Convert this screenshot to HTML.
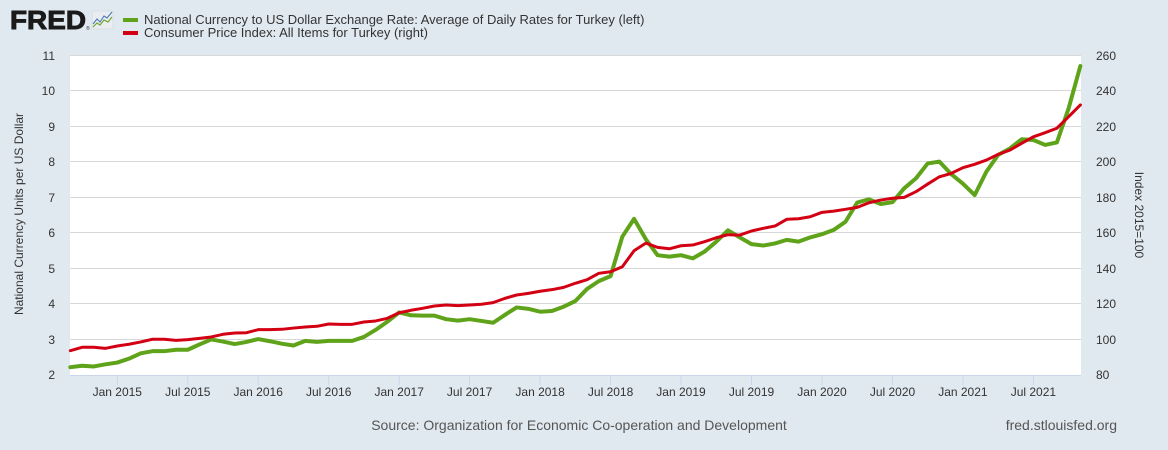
<!DOCTYPE html>
<html>
<head>
<meta charset="utf-8">
<style>
  html, body { margin:0; padding:0; background:#e1e9f0; }
  body { width:1168px; height:450px; overflow:hidden; }
  svg { display:block; font-family:"Liberation Sans", Arial, sans-serif; }
</style>
</head>
<body>
<svg width="1168" height="450" viewBox="0 0 1168 450" xmlns="http://www.w3.org/2000/svg">
  <rect x="0" y="0" width="1168" height="450" fill="#e1e9f0"/>

  <!-- FRED logo -->
  <text x="10" y="29" font-size="26" font-weight="bold" fill="#1a1a1a" stroke="#1a1a1a" stroke-width="0.9" textLength="76" lengthAdjust="spacingAndGlyphs">FRED</text>
  <text x="86" y="30" font-size="5" fill="#333">®</text>
  <rect x="92" y="11" width="21" height="18" fill="#e9edf1" stroke="#cfd6dd" stroke-width="0.6"/>
  <polyline points="93,24 97,19 100,22 104,16 107,18 112,12" fill="none" stroke="#4f79b8" stroke-width="1.1"/>
  <polyline points="93,27 97,23 100,25 104,20 108,22 112,17" fill="none" stroke="#6aa622" stroke-width="1.1"/>

  <!-- Legend -->
  <rect x="123" y="18" width="15" height="4" fill="#5fa31a"/>
  <rect x="123" y="31" width="15" height="4" fill="#d30013"/>
  <text x="144" y="24" font-size="13" fill="#333">National Currency to US Dollar Exchange Rate: Average of Daily Rates for Turkey (left)</text>
  <text x="144" y="37" font-size="13" fill="#333">Consumer Price Index: All Items for Turkey (right)</text>

  <!-- Plot area -->
  <rect x="70" y="55" width="1011" height="320" fill="#ffffff"/>

  <!-- Gridlines -->
  <g stroke="#d8d8d8" stroke-width="1">
    <line x1="70" x2="1081" y1="55.5" y2="55.5"/>
    <line x1="70" x2="1081" y1="90.5" y2="90.5"/>
    <line x1="70" x2="1081" y1="126.5" y2="126.5"/>
    <line x1="70" x2="1081" y1="161.5" y2="161.5"/>
    <line x1="70" x2="1081" y1="197.5" y2="197.5"/>
    <line x1="70" x2="1081" y1="232.5" y2="232.5"/>
    <line x1="70" x2="1081" y1="268.5" y2="268.5"/>
    <line x1="70" x2="1081" y1="303.5" y2="303.5"/>
    <line x1="70" x2="1081" y1="339.5" y2="339.5"/>
  </g>
  <!-- X axis line and ticks -->
  <line x1="70" x2="1081" y1="375.5" y2="375.5" stroke="#ccd6eb" stroke-width="1"/>
  <g stroke="#ccd6eb" stroke-width="1">
    <line x1="117.3" x2="117.3" y1="375" y2="385"/>
    <line x1="187.8" x2="187.8" y1="375" y2="385"/>
    <line x1="258.2" x2="258.2" y1="375" y2="385"/>
    <line x1="328.7" x2="328.7" y1="375" y2="385"/>
    <line x1="399.2" x2="399.2" y1="375" y2="385"/>
    <line x1="469.6" x2="469.6" y1="375" y2="385"/>
    <line x1="540.1" x2="540.1" y1="375" y2="385"/>
    <line x1="610.6" x2="610.6" y1="375" y2="385"/>
    <line x1="681.0" x2="681.0" y1="375" y2="385"/>
    <line x1="751.5" x2="751.5" y1="375" y2="385"/>
    <line x1="822.0" x2="822.0" y1="375" y2="385"/>
    <line x1="892.5" x2="892.5" y1="375" y2="385"/>
    <line x1="962.9" x2="962.9" y1="375" y2="385"/>
    <line x1="1033.4" x2="1033.4" y1="375" y2="385"/>
  </g>

  <!-- X labels -->
  <g font-size="12" fill="#333" text-anchor="middle">
    <text x="117.3" y="396">Jan 2015</text>
    <text x="187.8" y="396">Jul 2015</text>
    <text x="258.2" y="396">Jan 2016</text>
    <text x="328.7" y="396">Jul 2016</text>
    <text x="399.2" y="396">Jan 2017</text>
    <text x="469.6" y="396">Jul 2017</text>
    <text x="540.1" y="396">Jan 2018</text>
    <text x="610.6" y="396">Jul 2018</text>
    <text x="681.0" y="396">Jan 2019</text>
    <text x="751.5" y="396">Jul 2019</text>
    <text x="822.0" y="396">Jan 2020</text>
    <text x="892.5" y="396">Jul 2020</text>
    <text x="962.9" y="396">Jan 2021</text>
    <text x="1033.4" y="396">Jul 2021</text>
  </g>

  <!-- Left Y labels -->
  <g font-size="12" fill="#333" text-anchor="end">
    <text x="55" y="60">11</text>
    <text x="55" y="95">10</text>
    <text x="55" y="131">9</text>
    <text x="55" y="166">8</text>
    <text x="55" y="202">7</text>
    <text x="55" y="237">6</text>
    <text x="55" y="273">5</text>
    <text x="55" y="308">4</text>
    <text x="55" y="344">3</text>
    <text x="55" y="379">2</text>
  </g>
  <!-- Right Y labels -->
  <g font-size="12" fill="#333" text-anchor="start">
    <text x="1096" y="60">260</text>
    <text x="1096" y="95">240</text>
    <text x="1096" y="131">220</text>
    <text x="1096" y="166">200</text>
    <text x="1096" y="202">180</text>
    <text x="1096" y="237">160</text>
    <text x="1096" y="273">140</text>
    <text x="1096" y="308">120</text>
    <text x="1096" y="344">100</text>
    <text x="1096" y="379">80</text>
  </g>

  <!-- Axis titles -->
  <text transform="translate(23,214) rotate(-90)" font-size="12" fill="#333" text-anchor="middle">National Currency Units per US Dollar</text>
  <text transform="translate(1135,215) rotate(90)" font-size="12" fill="#333" text-anchor="middle">Index 2015=100</text>

  <!-- Green series (left axis) -->
  <g transform="matrix(11.745 0 0 -35.556 70.3 446.111)">
    <polyline fill="none" stroke="#5fa31a" stroke-width="4" stroke-linejoin="round" stroke-linecap="round" vector-effect="non-scaling-stroke"
      points="0,2.22 1,2.26 2,2.24 3,2.30 4,2.35 5,2.46 6,2.61 7,2.67 8,2.67 9,2.71 10,2.71 11,2.86 12,3.00 13,2.94 14,2.87 15,2.93 16,3.01 17,2.95 18,2.88 19,2.83 20,2.96 21,2.93 22,2.96 23,2.96 24,2.96 25,3.07 26,3.27 27,3.50 28,3.76 29,3.68 30,3.67 31,3.67 32,3.57 33,3.53 34,3.57 35,3.52 36,3.47 37,3.69 38,3.90 39,3.86 40,3.78 41,3.80 42,3.92 43,4.08 44,4.42 45,4.64 46,4.78 47,5.89 48,6.39 49,5.82 50,5.37 51,5.33 52,5.37 53,5.28 54,5.47 55,5.75 56,6.07 57,5.87 58,5.68 59,5.64 60,5.70 61,5.80 62,5.75 63,5.87 64,5.96 65,6.08 66,6.31 67,6.85 68,6.94 69,6.81 70,6.86 71,7.25 72,7.53 73,7.95 74,8.00 75,7.65 76,7.38 77,7.06 78,7.72 79,8.19 80,8.37 81,8.63 82,8.61 83,8.47 84,8.54 85,9.50 86,10.69"/>
  </g>

  <!-- Red series (right axis) -->
  <g transform="matrix(11.745 0 0 -1.77778 70.3 517.222)">
    <polyline fill="none" stroke="#d30013" stroke-width="3" stroke-linejoin="round" stroke-linecap="round" vector-effect="non-scaling-stroke"
      points="0,93.7 1,95.6 2,95.6 3,95.0 4,96.3 5,97.3 6,98.6 7,100.1 8,100.1 9,99.5 10,99.9 11,100.6 12,101.4 13,102.9 14,103.6 15,103.8 16,105.5 17,105.5 18,105.7 19,106.4 20,107.0 21,107.4 22,108.7 23,108.5 24,108.5 25,109.8 26,110.4 27,111.9 28,115.0 29,116.4 30,117.5 31,118.8 32,119.4 33,119.0 34,119.4 35,119.8 36,120.7 37,123.1 38,125.0 39,125.9 40,127.1 41,128.0 42,129.3 43,131.6 44,133.6 45,137.2 46,138.1 47,140.9 48,149.9 49,154.2 50,151.8 51,151.0 52,152.7 53,153.1 54,155.0 55,157.2 56,158.9 57,158.7 58,161.0 59,162.5 60,163.8 61,167.6 62,167.9 63,169.0 64,171.5 65,172.2 66,173.2 67,174.3 68,176.9 69,178.4 70,179.4 71,179.9 72,183.1 73,187.4 74,191.5 75,193.4 76,196.6 77,198.5 78,200.9 79,204.1 80,206.5 81,210.3 82,214.0 83,216.3 84,218.8 85,225.3 86,231.9"/>
  </g>

  <!-- Footer -->
  <text x="579" y="430" font-size="14" fill="#555" text-anchor="middle">Source: Organization for Economic Co-operation and Development</text>
  <text x="1117" y="430" font-size="14" fill="#555" text-anchor="end">fred.stlouisfed.org</text>
</svg>
</body>
</html>
